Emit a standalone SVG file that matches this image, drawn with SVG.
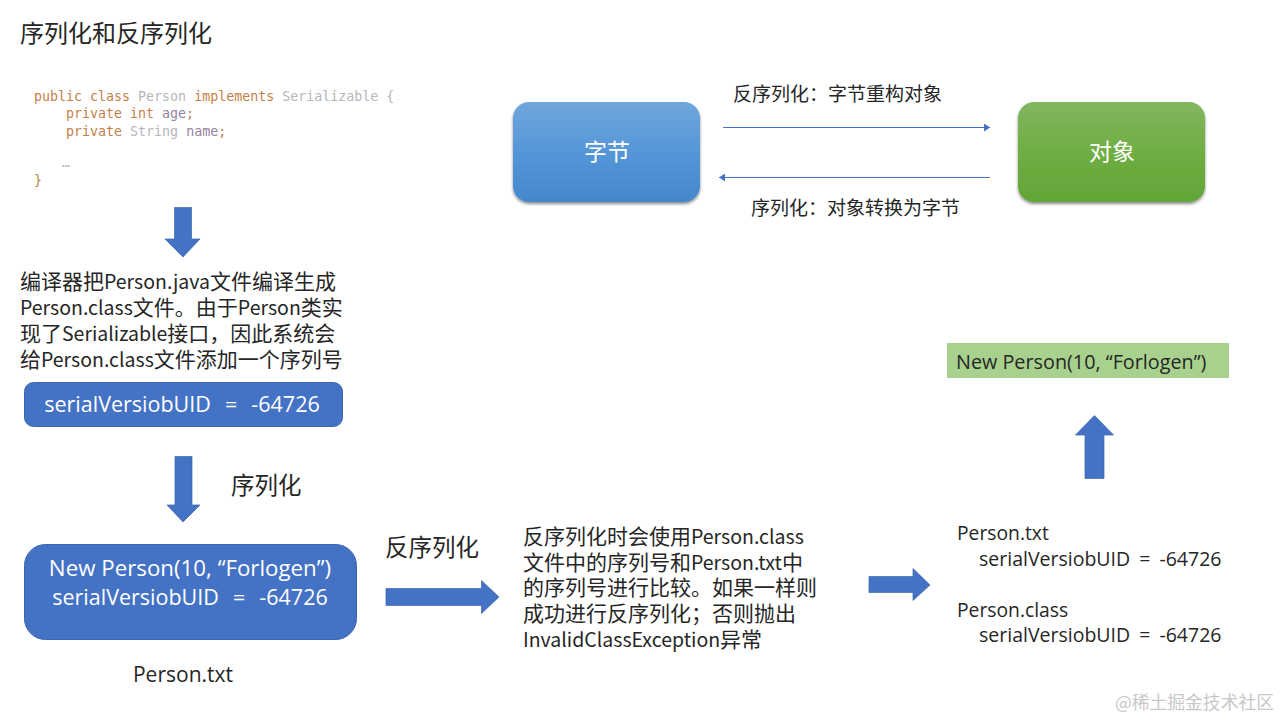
<svg xmlns="http://www.w3.org/2000/svg" width="1280" height="720" viewBox="0 0 1280 720">
<style>
text{font-family:"Open Sans","Noto Sans CJK SC",sans-serif;font-size:21px;fill:#262626}
text.m{font-family:"Noto Sans CJK SC",sans-serif}
.w{fill:#fff}
.c{text-anchor:middle}
.code{font-family:"DejaVu Sans Mono","Liberation Mono",monospace;font-size:13.300px}
.k{fill:#c47f48}.g{fill:#b4b7bb}.v{fill:#94829f}
.l{font-size:19.500px}
.uid{font-size:21.500px;word-spacing:8.500px}
.arrow{fill:#4472c4;stroke:#3b66b0;stroke-width:.7}
.line{stroke:#4472c4;stroke-width:1;fill:none}
</style>
<defs>
<linearGradient id="b" x1="0" y1="0" x2="0" y2="1"><stop offset="0" stop-color="#70a6dc"/><stop offset=".5" stop-color="#5596d8"/><stop offset="1" stop-color="#4388cb"/></linearGradient>
<linearGradient id="gr" x1="0" y1="0" x2="0" y2="1"><stop offset="0" stop-color="#83b660"/><stop offset=".5" stop-color="#6fae43"/><stop offset="1" stop-color="#62a537"/></linearGradient>
<filter id="s" x="-10%" y="-10%" width="120%" height="125%"><feDropShadow dx="0" dy="2" stdDeviation="1.500" flood-color="#000" flood-opacity=".45"/></filter>
<marker id="ah" viewBox="0 0 8 8" refX="7" refY="4" markerWidth="8" markerHeight="8" orient="auto-start-reverse" markerUnits="userSpaceOnUse"><path d="M1 0L7 4L1 8z" fill="#4472c4"/></marker>
</defs>
<rect width="1280" height="720" fill="#fff"/>
<text id="title" x="20" y="42" class="m" style="font-size:24px">序列化和反序列化</text>

<g id="code">
<text class="code">
<tspan x="34" y="101" class="k">public class</tspan> <tspan class="g">Person</tspan> <tspan class="k">implements</tspan> <tspan class="g">Serializable {</tspan>
<tspan x="66" y="118" class="k">private int</tspan> <tspan class="v">age</tspan><tspan class="k">;</tspan>
<tspan x="66" y="136" class="k">private</tspan> <tspan class="g">String</tspan> <tspan class="v">name</tspan><tspan class="k">;</tspan>
<tspan x="62" y="167" class="g">…</tspan>
<tspan x="34" y="185" class="k">}</tspan>
</text>
</g>

<g id="node-bytes"><rect x="513" y="102" width="187" height="100" rx="16" fill="url(#b)" filter="url(#s)"/><text class="m w c" x="607" y="160" style="font-size:23px">字节</text></g>
<g id="node-object"><rect x="1018" y="102" width="187" height="100" rx="16" fill="url(#gr)" filter="url(#s)"/><text class="m w c" x="1112" y="160" style="font-size:23px">对象</text></g>
<text id="label-de" class="m" x="733" y="101" style="font-size:19px">反序列化：字节重构对象</text>
<text id="label-se" class="m" x="751" y="215" style="font-size:19px">序列化：对象转换为字节</text>

<g id="desc1">
<text class="m">
<tspan x="20" y="289">编译器把</tspan><tspan class="l">Person.java</tspan><tspan>文件编译生成</tspan>
<tspan x="20" y="315" class="l">Person.class</tspan><tspan>文件。由于</tspan><tspan class="l">Person</tspan><tspan>类实</tspan>
<tspan x="20" y="341">现了</tspan><tspan class="l">Serializable</tspan><tspan>接口，因此系统会</tspan>
<tspan x="20" y="367">给</tspan><tspan class="l">Person.class</tspan><tspan>文件添加一个序列号</tspan>
</text>
</g>
<g id="node-uid"><rect x="24.500" y="382.500" width="318" height="44" rx="9" fill="#4472c4" stroke="#3b66b0"/><text class="w c uid" x="182" y="412">serialVersiobUID = -64726</text></g>
<text id="label-serialize" class="m" x="231" y="494" style="font-size:23.500px">序列化</text>
<g id="node-file"><rect x="24.500" y="544.500" width="332" height="95" rx="21" fill="#4472c4" stroke="#3b66b0"/><text class="w c" style="font-size:22.300px"><tspan x="190" y="576">New Person(10, “Forlogen”)</tspan><tspan x="190" y="605" class="uid">serialVersiobUID = -64726</tspan></text></g>
<text id="label-txt" class="c" x="183" y="682" style="font-size:21px">Person.txt</text>
<text id="label-deserialize" class="m" x="385" y="556" style="font-size:23.500px">反序列化</text>
<g id="desc2">
<text class="m">
<tspan x="523" y="544">反序列化时会使用</tspan><tspan class="l">Person.class</tspan>
<tspan x="523" y="570">文件中的序列号和</tspan><tspan class="l">Person.txt</tspan><tspan>中</tspan>
<tspan x="523" y="595">的序列号进行比较。如果一样则</tspan>
<tspan x="523" y="621">成功进行反序列化；否则抛出</tspan>
<tspan x="523" y="647" class="l">InvalidClassException</tspan><tspan>异常</tspan>
</text>
</g>
<g id="node-compare">
<text style="font-size:19.300px">
<tspan x="957" y="540">Person.txt</tspan>
<tspan x="979" y="566" style="font-size:19.500px;word-spacing:4px">serialVersiobUID = -64726</tspan>
<tspan x="957" y="617">Person.class</tspan>
<tspan x="979" y="642" style="font-size:19.500px;word-spacing:4px">serialVersiobUID = -64726</tspan>
</text>
</g>
<g id="node-result"><rect x="947" y="343" width="282" height="35" fill="#a9d18e"/><text x="956" y="369" style="font-size:19.800px">New Person(10, “Forlogen”)</text></g>
<text id="watermark" x="1274" y="709" class="m" text-anchor="end" style="font-size:17.800px;fill:#c8c8c8">@稀土掘金技术社区</text>

<g id="connectors">
<line class="line" x1="723" y1="127.500" x2="990" y2="127.500" marker-end="url(#ah)"/>
<line class="line" x1="990" y1="177.500" x2="719" y2="177.500" marker-end="url(#ah)"/>
<path class="arrow" d="M174.500 207.500H191.500V239H200L183 257L165 239H174.500Z"/>
<path class="arrow" d="M175 456.500H192V505H200L183 522L167 505H175Z"/>
<path class="arrow" d="M386 588.500H481.500V580.500L499 597L481.500 613.500V605.500H386Z"/>
<path class="arrow" d="M869 576.500H913V568.500L930 585L913 600.500V592.500H869Z"/>
<path class="arrow" d="M1085 478.500V435H1075.500L1094.500 415.500L1113.500 435H1104V478.500Z"/>
</g>
</svg>
